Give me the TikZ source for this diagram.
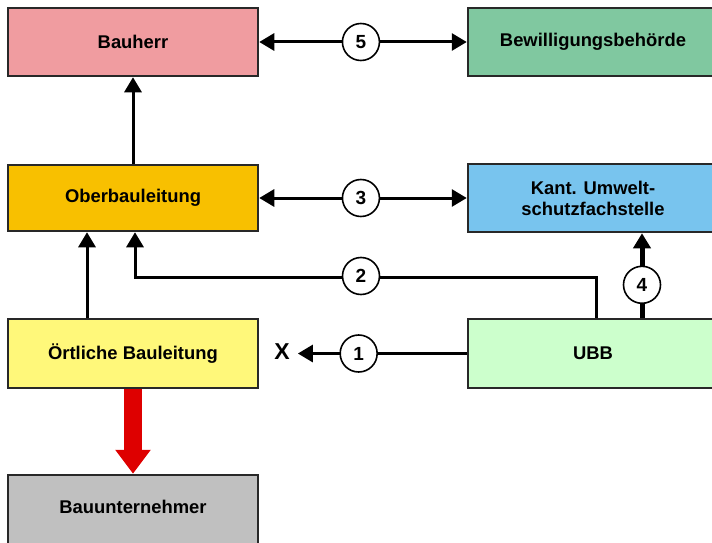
\documentclass[tikz,border=0pt]{standalone}
\usepackage{fontspec}
\setmainfont{Liberation Sans}
\usetikzlibrary{arrows.meta,calc}
\definecolor{cBauherr}{RGB}{240,156,160}
\definecolor{cBew}{RGB}{128,200,160}
\definecolor{cOber}{RGB}{248,192,0}
\definecolor{cKant}{RGB}{120,196,238}
\definecolor{cOert}{RGB}{255,248,122}
\definecolor{cUBB}{RGB}{204,255,204}
\definecolor{cUnt}{RGB}{192,192,192}
\definecolor{cBorder}{RGB}{40,40,40}
\definecolor{cRed}{RGB}{222,0,0}
\tikzset{
  box/.style={draw=cBorder, line width=2.5pt, rectangle, minimum width=250pt, inner sep=0pt,
    font=\fontsize{18.4pt}{21pt}\selectfont\bfseries, align=center},
  conn/.style={line width=3pt, -{Triangle[length=15pt,width=17pt]}},
  biconn/.style={line width=3pt, {Triangle[length=15pt,width=17pt]}-{Triangle[length=15pt,width=17pt]}},
  num/.style={circle, draw=black, line width=1.6pt, fill=white, minimum size=37pt, inner sep=0pt,
    font=\fontsize{19pt}{21pt}\selectfont\bfseries},
  lbl/.style={font=\fontsize{23pt}{25pt}\selectfont\bfseries, inner sep=0pt}
}
\begin{document}
\begin{tikzpicture}[x=1pt,y=-1pt]
\useasboundingbox (0,0) rectangle (712,543);
\clip (0,0) rectangle (712,543);
\node[box, fill=cBauherr, minimum height=68pt] (bauherr) at (133,42) {Bauherr};
\node[box, fill=cBew, minimum height=68pt] (bew) at (593,42) {Bewilligungsbehörde};
\node[box, fill=cOber, minimum height=66pt] (ober) at (133,198) {Oberbauleitung};
\node[box, fill=cKant, minimum height=68pt] (kant) at (593,198) {Kant. Umwelt-\\schutzfachstelle};
\node[box, fill=cOert, minimum height=69pt] (oert) at (133,353.5) {Örtliche Bauleitung};
\node[box, fill=cUBB, minimum height=69pt] (ubb) at (593,353.5) {UBB};
\node[box, fill=cUnt, minimum height=70pt, text depth=6pt] (unt) at (133,510) {Bauunternehmer};
\node[lbl] (x) at (282,352) {X};

% 5
\draw[biconn] (bauherr.east) -- node[num, pos=0.49]{5} (bew.west);
% 3
\draw[biconn] (ober.east) -- node[num, pos=0.49]{3} (kant.west);
% Ober -> Bauherr
\draw[conn] (ober.north) -- (bauherr.south);
% Oert -> Ober
\draw[conn] ([xshift=-46pt]oert.north) -- ([xshift=-46pt]ober.south);
% 2
\draw[conn] ([xshift=3pt]ubb.north) |- ([xshift=2pt,yshift=-45pt]ober.south) -- ([xshift=2pt]ober.south);
\node[num] (c2) at (361,276) {2};
% 4
\draw[conn, line width=5pt] ([xshift=49pt]ubb.north) -- node[num, pos=0.39]{4} ([xshift=49pt]kant.south);
% 1
\draw[conn] (ubb.west) -- node[num, pos=0.64]{1} ([xshift=8pt]x.east |- ubb.west);
% red arrow
\draw[cRed, line width=18pt, -{Triangle[length=24pt,width=34pt]}] (oert.south) -- (unt.north);
\end{tikzpicture}
\end{document}
